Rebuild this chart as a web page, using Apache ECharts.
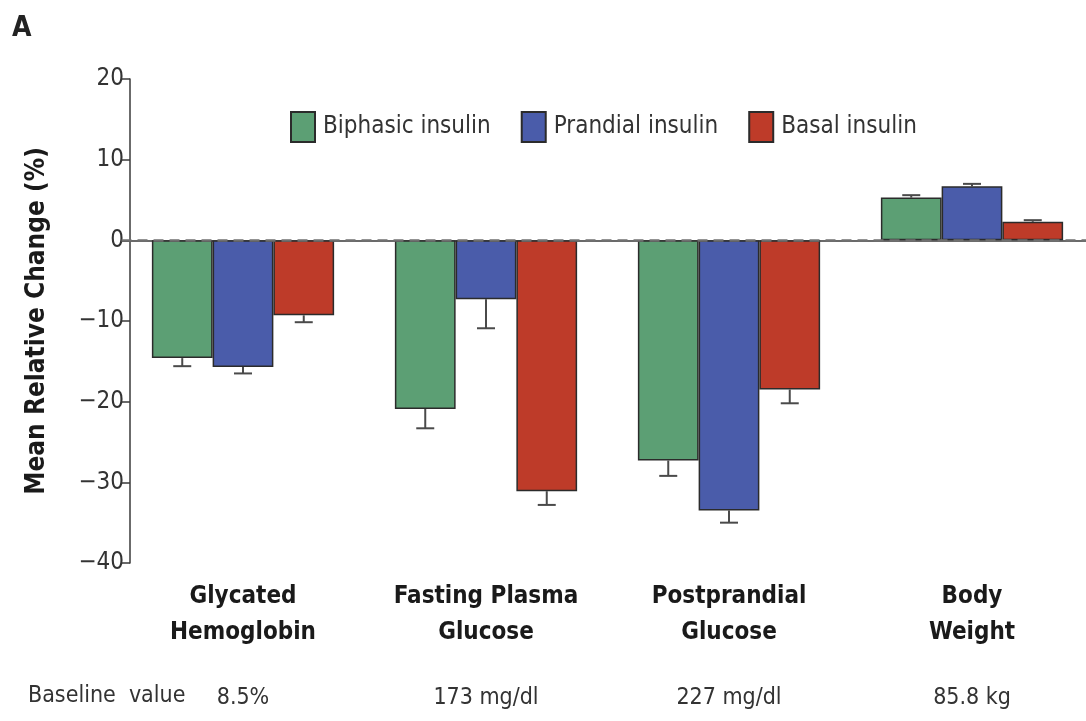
<!DOCTYPE html>
<html>
<head>
<meta charset="utf-8">
<script src="https://cdn.jsdelivr.net/npm/echarts@6/dist/echarts.min.js"></script>
<style>
html,body{margin:0;padding:0;background:#fff;overflow:hidden;}
#chart{width:1094px;height:721px;}
</style>
</head>
<body>
<div id="chart"></div>
<script>
const categories = ['Glycated\nHemoglobin', 'Fasting Plasma\nGlucose', 'Postprandial\nGlucose', 'Body\nWeight'];
const baselineValues = ['8.5%', '173 mg/dl', '227 mg/dl', '85.8 kg'];
const seriesNames = ['Biphasic insulin', 'Prandial insulin', 'Basal insulin'];
const biphasic = [-14.6, -20.9, -27.3, 5.3];
const prandial = [-15.7, -7.3, -33.5, 6.7];
const basal = [-9.3, -31.1, -18.5, 2.3];
const biphasicErr = [1.0, 2.4, 1.9, 0.3];
const prandialErr = [0.8, 3.6, 1.5, 0.3];
const basalErr = [0.85, 1.7, 1.7, 0.2];
const yMin = -40, yMax = 20, yInterval = 10;

const FONT = "'DejaVu Sans Condensed', 'Liberation Sans Narrow', 'Open Sans', sans-serif";
const colors = ['#5c9f74', '#4a5caa', '#be3b29'];
const values = [biphasic, prandial, basal];
const errs = [biphasicErr, prandialErr, basalErr];

const chart = echarts.init(document.getElementById('chart'));

const barSeries = values.map((v, i) => ({
  name: seriesNames[i],
  type: 'bar',
  data: v,
  barGap: '0%',
  barCategoryGap: '25%',
  itemStyle: { color: colors[i], borderColor: '#2b2b2b', borderWidth: 1.5 },
  z: 2,
  markLine: i === 0 ? {
    silent: true, symbol: 'none',
    label: { show: false },
    lineStyle: { color: '#707070', type: [10, 6], width: 2.5 },
    data: [{ yAxis: 0 }],
    z: 5
  } : undefined
}));

const errSeries = values.map((v, i) => ({
  name: 'err' + i,
  type: 'custom',
  z: 1,
  data: v.map((val, k) => [k, val, errs[i][k]]),
  encode: { x: 0, y: 1 },
  renderItem: function (params, api) {
    const k = api.value(0), val = api.value(1), e = api.value(2);
    const band = api.size([1, 0])[0];
    const off = (i - 1) * band * 0.25;
    const end = val < 0 ? val - e : val + e;
    const p0 = api.coord([k, val]);
    const p1 = api.coord([k, end]);
    const x = p0[0] + off;
    const style = { stroke: '#4a4a4a', lineWidth: 2 };
    return {
      type: 'group',
      children: [
        { type: 'line', shape: { x1: x, y1: p0[1], x2: x, y2: p1[1] }, style: style },
        { type: 'line', shape: { x1: x - 9, y1: p1[1], x2: x + 9, y2: p1[1] }, style: style }
      ]
    };
  }
}));

chart.setOption({
  animation: false,
  textStyle: { fontFamily: FONT },
  grid: { left: 121.5, width: 972, top: 79, bottom: 158, containLabel: false },
  legend: {
    data: seriesNames,
    left: 285, top: 106,
    icon: 'rect',
    itemWidth: 24, itemHeight: 30,
    itemGap: 30,
    textStyle: { fontFamily: FONT, fontSize: 24, color: '#333', padding: [0, 0, 0, 3] }
  },
  graphic: [
    { type: 'text', left: 12, top: 15, style: { text: 'A', font: "bold 28px " + FONT, fill: '#222' } },
    { type: 'text', left: 28, top: 685, style: { text: 'Baseline  value', font: "23px " + FONT, fill: '#333' } }
  ],
  xAxis: {
    type: 'category',
    data: categories,
    axisLine: { lineStyle: { color: '#3a3a3a', width: 1.5 } },
    axisTick: { show: false },
    axisLabel: {
      margin: 16,
      interval: 0,
      formatter: function (value, idx) {
        return value.split('\n').map(s => '{b|' + s + '}').join('\n') + '\n{v|' + baselineValues[idx] + '}';
      },
      rich: {
        b: { fontFamily: FONT, fontWeight: 'bold', fontSize: 24, color: '#1a1a1a', lineHeight: 36 },
        v: { fontFamily: FONT, fontSize: 23, color: '#333', lineHeight: 94 }
      }
    }
  },
  yAxis: {
    type: 'value',
    min: yMin, max: yMax, interval: yInterval,
    offset: -8.5,
    name: 'Mean Relative Change (%)',
    nameLocation: 'middle',
    nameGap: 80,
    nameTextStyle: { fontFamily: FONT, fontWeight: 'bold', fontSize: 26, color: '#1a1a1a' },
    splitLine: { show: false },
    axisLine: { show: true, lineStyle: { color: '#3a3a3a', width: 1.5 } },
    axisTick: { show: true, length: 8, lineStyle: { color: '#3a3a3a', width: 1.5 } },
    axisLabel: {
      fontFamily: FONT, fontSize: 24, color: '#333', margin: 6,
      formatter: v => String(v).replace('-', '\u2212')
    }
  },
  series: barSeries.concat(errSeries)
});
</script>
</body>
</html>
